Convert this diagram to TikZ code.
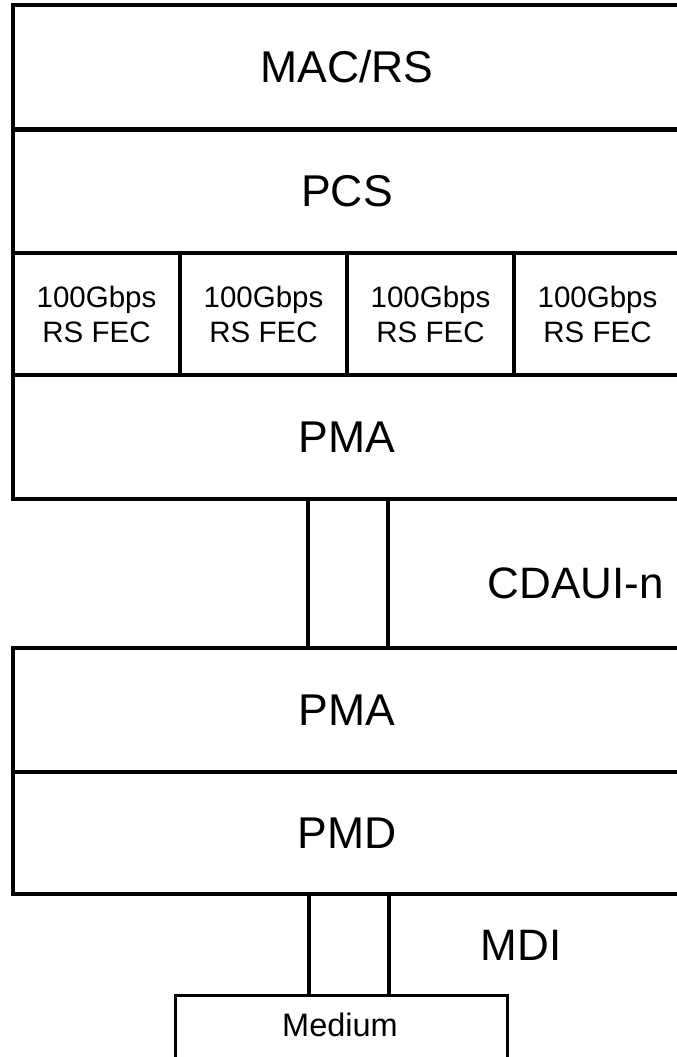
\documentclass[tikz,border=0pt]{standalone}
\usepackage{fontspec}
\setmainfont{Liberation Sans}
\begin{document}
\begin{tikzpicture}[x=1pt,y=-1pt,
  layer/.style={draw, line width=3.5pt, minimum width=668pt, inner sep=0pt, font=\fontsize{44.5}{50}\selectfont},
  fecbox/.style={draw, line width=3.5pt, minimum width=167pt, minimum height=122pt, inner sep=0pt, align=center, font=\fontsize{29.5}{35}\selectfont},
  link/.style={line width=3.5pt},
  lbl/.style={inner sep=0pt, font=\fontsize{44}{50}\selectfont}]
\useasboundingbox (0,0) rectangle (677,1057);
\clip (0,0) rectangle (677,1057);
\node[layer, minimum height=124pt] (mac) at (347,67) {MAC/RS};
\node[layer, minimum height=123pt] (pcs) at (347,191.5) {PCS};
\node[fecbox] (fec1) at (96.5,314) {100Gbps\\RS FEC};
\node[fecbox] (fec2) at (263.5,314) {100Gbps\\RS FEC};
\node[fecbox] (fec3) at (430.5,314) {100Gbps\\RS FEC};
\node[fecbox] (fec4) at (597.5,314) {100Gbps\\RS FEC};
\node[layer, minimum height=124pt] (pmaA) at (347,437) {PMA};
\node[layer, minimum height=124pt] (pmaB) at (347,710) {PMA};
\node[layer, minimum height=122pt] (pmd) at (347,833) {PMD};
\node[draw, line width=3pt, minimum width=332pt, minimum height=70pt, inner sep=0pt, anchor=north] (med) at (341,994) {};
\node[font=\fontsize{32.5}{38}\selectfont, inner sep=0pt] (medtxt) at (340,1025) {Medium};
\draw[link] ([xshift=-39pt]pmaA.south) -- ([xshift=-39pt]pmaB.north);
\draw[link] ([xshift=41pt]pmaA.south) -- ([xshift=41pt]pmaB.north);
\draw[link] ([xshift=-38pt]pmd.south) -- ([xshift=-38pt]pmd.south |- med.north);
\draw[link] ([xshift=42pt]pmd.south) -- ([xshift=42pt]pmd.south |- med.north);
\node[lbl] (cdaui) at (576,583) {CDAUI-n};
\node[lbl] (mdi) at (521,945) {MDI};
\end{tikzpicture}
\end{document}
